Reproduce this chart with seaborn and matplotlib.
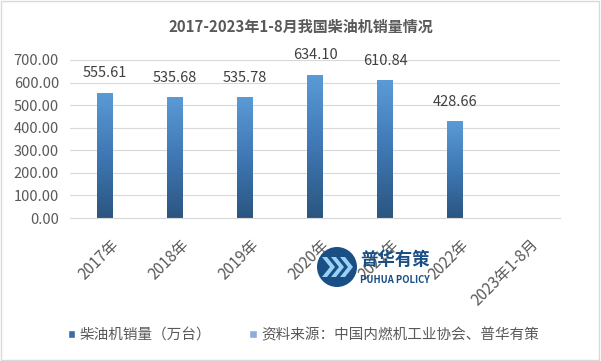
import numpy as np
import pandas as pd
import seaborn as sns
import matplotlib.pyplot as plt
from matplotlib.patches import Patch, Circle, Rectangle, Polygon
from matplotlib.transforms import ScaledTranslation

sns.set_theme(style="white")
plt.rcParams['font.family'] = ['Noto Sans CJK SC', 'DejaVu Sans']

years = ["2017年", "2018年", "2019年", "2020年", "2021年", "2022年", "2023年1-8月"]
sales = [555.61, 535.68, 535.78, 634.10, 610.84, 428.66, np.nan]
yticks = [0, 100, 200, 300, 400, 500, 600, 700]

df = pd.DataFrame({"year": years, "sales": sales})

fig = plt.figure(figsize=(6.01, 3.61), dpi=100)
ax = fig.add_axes([0.1165, 0.396, 0.8155, 0.438])

sns.barplot(data=df, x="year", y="sales", ax=ax, width=0.22,
            color="#3A6EA5", saturation=1, order=years)

# gradient fill: light blue on top, dark blue at the bottom
grad = np.linspace(0, 1, 256).reshape(-1, 1)
cmap = sns.blend_palette(["#2B5580", "#3F78B4", "#5B9BD5"], as_cmap=True)
for bar in ax.patches:
    h = bar.get_height()
    if np.isnan(h) or h == 0:
        continue
    x0 = bar.get_x()
    w = bar.get_width()
    im = ax.imshow(grad, extent=[x0, x0 + w, 0, h], origin="lower",
                   cmap=cmap, aspect="auto", zorder=bar.get_zorder())
    im.set_clip_path(bar)
    bar.set_facecolor("none")
    bar.set_edgecolor("none")

for i, v in enumerate(sales):
    if np.isnan(v):
        continue
    ax.annotate(f"{v:.2f}", (i, v), xytext=(0, 9), textcoords="offset points",
                ha="center", va="bottom", fontsize=10.5, color="#404040")

ax.set_xlim(-0.5, len(years) - 0.5)
ax.set_ylim(0, 700)
ax.set_yticks(yticks)
ax.set_yticklabels([f"{t:.2f}" for t in yticks], fontsize=10.5, color="#595959")
ax.set_xticks(range(len(years)))
ax.set_xticklabels(years, rotation=45, ha="right", rotation_mode="anchor",
                   fontsize=11, color="#595959")
ax.tick_params(axis="y", length=0, pad=8)
ax.tick_params(axis="x", length=0, pad=13)
shift = ScaledTranslation(0.05, 0, fig.dpi_scale_trans)
for lbl in ax.get_xticklabels():
    lbl.set_transform(lbl.get_transform() + shift)
ax.set_xlabel("")
ax.set_ylabel("")
ax.yaxis.grid(True, color="#D9D9D9", linewidth=0.8)
ax.set_axisbelow(True)
for s in ["top", "right", "left"]:
    ax.spines[s].set_visible(False)
ax.spines["bottom"].set_color("#D9D9D9")
ax.spines["bottom"].set_linewidth(0.8)

fig.text(0.5, 0.925, "2017-2023年1-8月我国柴油机销量情况", ha="center", va="center",
         fontsize=10.8, fontweight="bold", color="#595959")

handles = [Patch(facecolor="#3A6EA5"), Patch(facecolor="#8FAADC")]
labels = ["柴油机销量（万台）", "资料来源：中国内燃机工业协会、普华有策"]
fig.legend(handles, labels, loc="center", bbox_to_anchor=(0.505, 0.072), ncol=2,
           frameon=False, fontsize=10.5, handlelength=0.5, handleheight=0.5,
           handletextpad=0.3, columnspacing=2.6, labelcolor="#595959")

# watermark logo
logo = Circle((3.37, 3.61 - 2.67), 0.2, transform=fig.dpi_scale_trans,
              facecolor="#1A4F86", edgecolor="none", zorder=5)
fig.patches.append(logo)
for k in range(3):
    ox = 3.22 + k * 0.09
    top, mid, bot = 1.04, 0.94, 0.84
    pts = [(ox, top), (ox + 0.05, top), (ox + 0.13, mid),
           (ox + 0.05, bot), (ox, bot), (ox + 0.08, mid)]
    fig.patches.append(Polygon(pts, closed=True, transform=fig.dpi_scale_trans,
                               facecolor="#9AD2F5", edgecolor="none", zorder=6))
fig.text(3.60 / 6.01, 1 - 2.60 / 3.61, "普华有策", ha="left", va="center",
         fontsize=12.5, fontweight="bold", color="#1A4F86", zorder=6)
fig.text(3.60 / 6.01, 1 - 2.80 / 3.61, "PUHUA POLICY", ha="left", va="center",
         fontsize=6.8, fontweight="bold", color="#1A4F86", zorder=6)

fig.patches.append(Rectangle((0.002, 0.003), 0.995, 0.993, transform=fig.transFigure,
                             fill=False, edgecolor="#D9D9D9", linewidth=1))

fig.savefig("out.png", dpi=100)
